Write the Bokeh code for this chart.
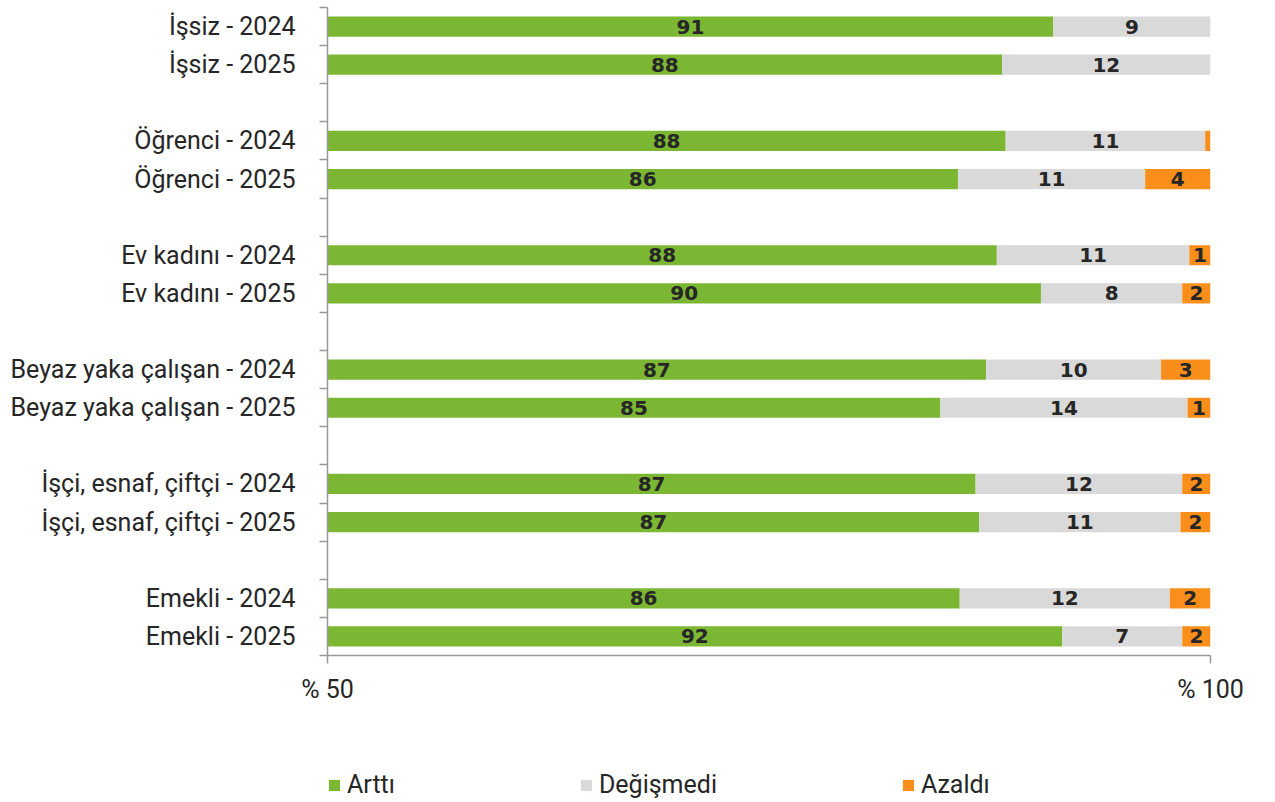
from bokeh.plotting import figure
from bokeh.layouts import column
from bokeh.models import Range1d, FixedTicker, Legend, LegendItem, ColumnDataSource
from bokeh.core.properties import value
from bokeh.embed import file_html
from bokeh.resources import INLINE

groups = ["İşsiz", "Öğrenci", "Ev kadını", "Beyaz yaka çalışan", "İşçi, esnaf, çiftçi", "Emekli"]
years = ["2024", "2025"]
arttı = [91.1, 88.2, 88.4, 85.7, 87.9, 90.4, 87.3, 84.7, 86.7, 86.9, 85.8, 91.6]
degismedi = [8.9, 11.8, 11.3, 10.6, 10.9, 8.0, 9.9, 14.0, 11.7, 11.4, 11.9, 6.8]
azaldi = [0.0, 0.0, 0.3, 3.7, 1.2, 1.6, 2.8, 1.3, 1.6, 1.7, 2.3, 1.6]
series_names = ["Arttı", "Değişmedi", "Azaldı"]
colors = ["#7CB733", "#D9D9D9", "#F98E1A"]
x_ticks = [50, 100]
x_tick_labels = ["% 50", "% 100"]

labels, ys = [], []
for gi, g in enumerate(groups):
    for yi, yr in enumerate(years):
        labels.append(f"{g} - {yr}")
        ys.append(gi * 3 + yi + 0.5)

n_slots = len(groups) * 3 - 1
X0 = x_ticks[0]

p = figure(width=1270, height=745,
           x_range=Range1d(x_ticks[0], x_ticks[1]), y_range=Range1d(n_slots, 0),
           output_backend="svg", toolbar_location=None,
           min_border_left=327, min_border_right=60, min_border_top=7, min_border_bottom=90)
p.outline_line_color = None
p.background_fill_color = "white"

cum = [0.0] * len(ys)
for vals, col in zip([arttı, degismedi, azaldi], colors):
    left = cum[:]
    right = [c + v for c, v in zip(cum, vals)]
    src = ColumnDataSource(dict(y=ys, left=left, right=right))
    p.hbar(y="y", left="left", right="right", height=0.53, source=src,
           fill_color=col, line_color=None)
    tx, ty, tt = [], [], []
    for yv, l, rr, v in zip(ys, left, right, vals):
        if round(v) >= 1:
            tx.append((max(l, X0) + rr) / 2)
            ty.append(yv)
            tt.append(str(int(round(v))))
    p.text(x=tx, y=ty, text=tt, text_align="center", text_baseline="middle",
           text_font=value("DejaVu Sans"), text_font_style="bold",
           text_font_size="20px", text_color="#262626")
    cum = right

yax = p.yaxis[0]
yax.ticker = FixedTicker(ticks=ys, minor_ticks=list(range(0, n_slots + 1)))
yax.major_label_overrides = {yv: lab for yv, lab in zip(ys, labels)}
yax.major_tick_out = 0
yax.major_tick_in = 0
yax.minor_tick_out = 8
yax.minor_tick_in = 0
yax.minor_tick_line_color = "#999999"
yax.minor_tick_line_width = 1.5
yax.axis_line_color = "#999999"
yax.axis_line_width = 1.5
yax.major_label_standoff = 24
yax.major_label_text_font = "Roboto"
yax.major_label_text_font_size = "25px"
yax.major_label_text_color = "#262626"

xax = p.xaxis[0]
xax.ticker = FixedTicker(ticks=x_ticks, minor_ticks=[])
xax.major_label_overrides = {t: l for t, l in zip(x_ticks, x_tick_labels)}
xax.major_tick_out = 8
xax.major_tick_in = 0
xax.major_tick_line_color = "#999999"
xax.major_tick_line_width = 1.5
xax.axis_line_color = "#999999"
xax.axis_line_width = 1.5
xax.major_label_standoff = 11
xax.major_label_text_font = "Roboto"
xax.major_label_text_font_size = "25px"
xax.major_label_text_color = "#262626"

p.ygrid.grid_line_color = None
p.xgrid.ticker = FixedTicker(ticks=[x_ticks[1]])
p.xgrid.grid_line_color = "#999999"
p.xgrid.grid_line_width = 1.5

# legend strip (its frame is aligned with the main plot's frame by the column layout)
leg = figure(width=1270, height=56, x_range=Range1d(0, 1), y_range=Range1d(0, 1),
             output_backend="svg", toolbar_location=None,
             min_border_left=0, min_border_right=0, min_border_top=0, min_border_bottom=0,
             x_axis_location=None, y_axis_location=None)
leg.outline_line_color = None
leg.grid.visible = False
leg_renderers = [leg.hbar(y=[-10], left=[0], right=[1], height=0.5, fill_color=c, line_color=None)
                 for c in colors]
legend = Legend(items=[LegendItem(label=n, renderers=[r]) for n, r in zip(series_names, leg_renderers)],
                orientation="horizontal", location=(0, 2),
                glyph_width=14, glyph_height=14, label_standoff=6, spacing=184,
                padding=0, margin=0, border_line_color=None, background_fill_alpha=0,
                label_text_font="Roboto", label_text_font_size="25px", label_text_color="#262626")
leg.add_layout(legend, "center")

open("out.html", "w").write(file_html(column(p, leg, spacing=0), INLINE))
